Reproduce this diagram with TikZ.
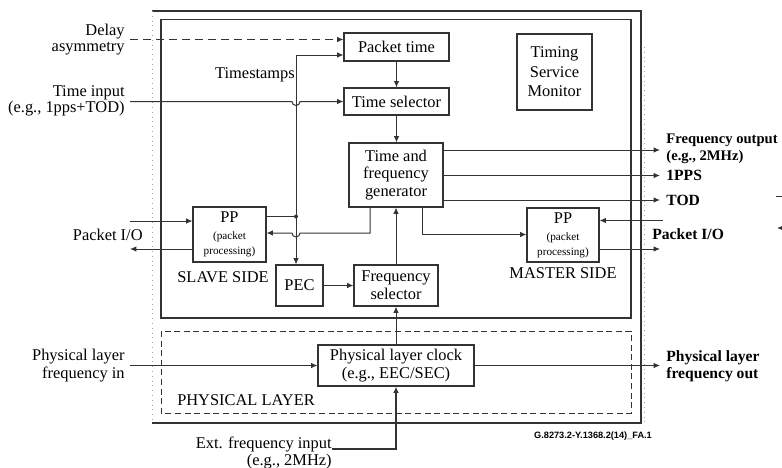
\documentclass[tikz,border=0pt]{standalone}
\usepackage{fontspec}
\setmainfont{Liberation Serif}
\setsansfont{Liberation Sans}
\usetikzlibrary{arrows.meta, positioning}

\definecolor{ink}{HTML}{333333}

\tikzset{
  >={Latex[length=3.2pt,width=2.8pt]},
  frame/.style={draw=ink, line width=0.55pt},
  blk/.style={draw=ink, line width=0.55pt, inner sep=0pt, align=center, font=\fontsize{8.2}{9}\selectfont},
  lbl/.style={inner sep=0pt, align=center, font=\fontsize{8.2}{9}\selectfont},
  lblL/.style={inner xsep=2.5pt, inner ysep=0pt, align=right, anchor=east, font=\fontsize{8.2}{8}\selectfont},
  lblR/.style={inner xsep=3pt, inner ysep=0pt, align=left, anchor=west, font=\fontsize{7.8}{8.5}\selectfont\bfseries},
  wire/.style={draw=ink, line width=0.5pt},
}
\newcommand{\ppsmall}[1]{{\fontsize{5.6}{6.5}\selectfont #1}}

\begin{document}
\begin{tikzpicture}[x=0.5pt,y=-0.5pt]
\path[use as bounding box, clip] (0,0) rectangle (782,467);

% Rahmen
\draw[frame] (152,423) -- (641,423) -- (641,11) -- (152,11);
\draw[ink!45, dotted] (152,11) -- (152,423);
\draw[ink!45, dotted] (644,47) -- (644,423);
\draw[frame] (161,19.5) rectangle (631,318);
\draw[draw=ink, line width=0.5pt, dash pattern=on 3pt off 1.8pt] (161,331) rectangle (631,413);

% Bloecke
\node[blk, minimum width=52.5pt, minimum height=14pt] (ptime) at (396.5,47) {Packet time};
\node[blk, minimum width=52.5pt, minimum height=13.5pt] (tsel) at (396.5,101.5) {Time selector};
\node[blk, minimum width=47pt, minimum height=32pt, font=\fontsize{8.2}{8.8}\selectfont] (tfg) at (396,175) {Time and\\frequency\\generator};
\node[blk, minimum width=37.5pt, minimum height=38pt, font=\fontsize{8.2}{9.8}\selectfont] (tsm) at (554.5,72) {Timing\\Service\\Monitor};
\node[blk, minimum width=36.5pt, minimum height=27.5pt] (ppS) at (229.5,234.5) {PP\\[-0.5pt]\ppsmall{(packet}\\[-1.6pt]\ppsmall{processing)}};
\node[blk, minimum width=36pt, minimum height=27pt] (ppM) at (563,235) {PP\\[-0.5pt]\ppsmall{(packet}\\[-1.6pt]\ppsmall{processing)}};
\node[blk, minimum width=23.5pt, minimum height=20.5pt] (pec) at (299.5,285.5) {PEC};
\node[blk, minimum width=42pt, minimum height=20.5pt] (fsel) at (396,285.5) {Frequency\\selector};
\node[blk, minimum width=78pt, minimum height=20.5pt] (plc) at (396,365.5) {Physical layer clock\\(e.g., EEC/SEC)};

% Beschriftungen
\node[lbl] (tstamp) at (255,75) {Timestamps};
\node[lbl] (slave) at (223,277) {SLAVE SIDE};
\node[lbl] (master) at (563,273.5) {MASTER SIDE};
\node[lbl] (phys) at (246,400) {PHYSICAL LAYER};
\node[font=\sffamily\bfseries\fontsize{4.6}{5}\selectfont, inner sep=0pt] (fig) at (593,436) {G.8273.2-Y.1368.2(14)\_FA.1};

% Eingaenge links
\node[lblL] (delay) at (130,39.5) {Delay\\asymmetry};
\node[lblL] (tin) at (130,100.5) {Time input\\(e.g., 1pps+TOD)};
\node[lblL] (pioS) at (148,235) {Packet I/O};
\node[lblL, font=\fontsize{8.2}{8.7}\selectfont] (plin) at (130,365.5) {Physical layer\\frequency in};
\node[inner sep=0pt, anchor=north east, align=right, font=\fontsize{8.2}{8.5}\selectfont] (ext) at (332,437) {Ext. frequency input\\(e.g., 2MHz)};

% Ausgaenge rechts
\node[lblR, font=\fontsize{7.3}{8.5}\selectfont\bfseries] (fout) at (660,149) {Frequency output\\(e.g., 2MHz)};
\node[lblR] (pps) at (660,175.5) {1PPS};
\node[lblR] (tod) at (660,200) {TOD};
\node[lblR] (pioM) at (646,234) {Packet I/O};
\node[lblR] (plout) at (660,366) {Physical layer\\frequency out};

% Hilfspunkte
\coordinate (ts) at (296,55);
\coordinate (dot) at (296,216.5);
\coordinate (sin) at (130,221);
\coordinate (sout) at (130,249);
\coordinate (min) at (663,220.5);
\coordinate (mout) at (660,249);
\coordinate (extp) at (332,449);

% Verbindungen
\draw[wire, dash pattern=on 4pt off 2.5pt, ->] (delay.east) -- (delay.east -| ptime.west);
\draw[wire, ->] (dot) -- (ts) -- (ts -| ptime.west);
\draw[wire, ->] (tin.east |- tsel.west) -- ([xshift=-2pt]ts |- tsel.west) arc[start angle=180, end angle=360, radius=2pt] -- (tsel.west);
\draw[wire, ->] (ptime) -- (tsel);
\draw[wire, ->] (tsel.south) -- (tsel.south |- tfg.north);
\draw[wire, ->] (tfg.east |- 0,150) -- (fout.west |- 0,150);
\draw[wire, ->] (tfg.east |- pps.west) -- (pps.west);
\draw[wire, ->] (tfg.east |- tod.west) -- (tod.west);

\draw[wire, ->] (sin) -- (sin -| ppS.west);
\draw[wire, ->] (sout -| ppS.west) -- (sout);
\draw[wire] (ppS.east |- dot) -- (dot);
\fill[ink] (dot) circle[radius=1pt];
\draw[wire, ->] (dot) -- (dot |- pec.north);
\draw[wire, ->] (370,0 |- tfg.south) -- (370,233) -- (300,233) arc[start angle=0, end angle=-180, radius=2pt] -- (ppS.east |- 0,233);
\draw[wire, ->] (422,0 |- tfg.south) -- (422,234.5) -- (ppM.west |- 0,234.5);
\draw[wire, ->] (min) -- (min -| ppM.east);
\draw[wire, ->] (ppM.east |- mout) -- (mout);

\draw[wire, ->] (pec) -- (fsel);
\draw[wire, ->] (fsel.north) -- (fsel.north |- tfg.south);
\draw[wire, ->] (plc.north) -- (plc.north |- fsel.south);
\draw[wire, ->] (plin.east) -- (plc.west);
\draw[wire, ->] (plc.east) -- (plc.east -| plout.west);
\draw[wire, line width=0.9pt, ->] (extp) -- (extp -| plc.south) -- (plc.south);

% Reste am Rand
\draw[wire] (776,196) -- (790,196);
\draw[wire, ->] (790,228) -- (777,228);
\end{tikzpicture}
\end{document}
